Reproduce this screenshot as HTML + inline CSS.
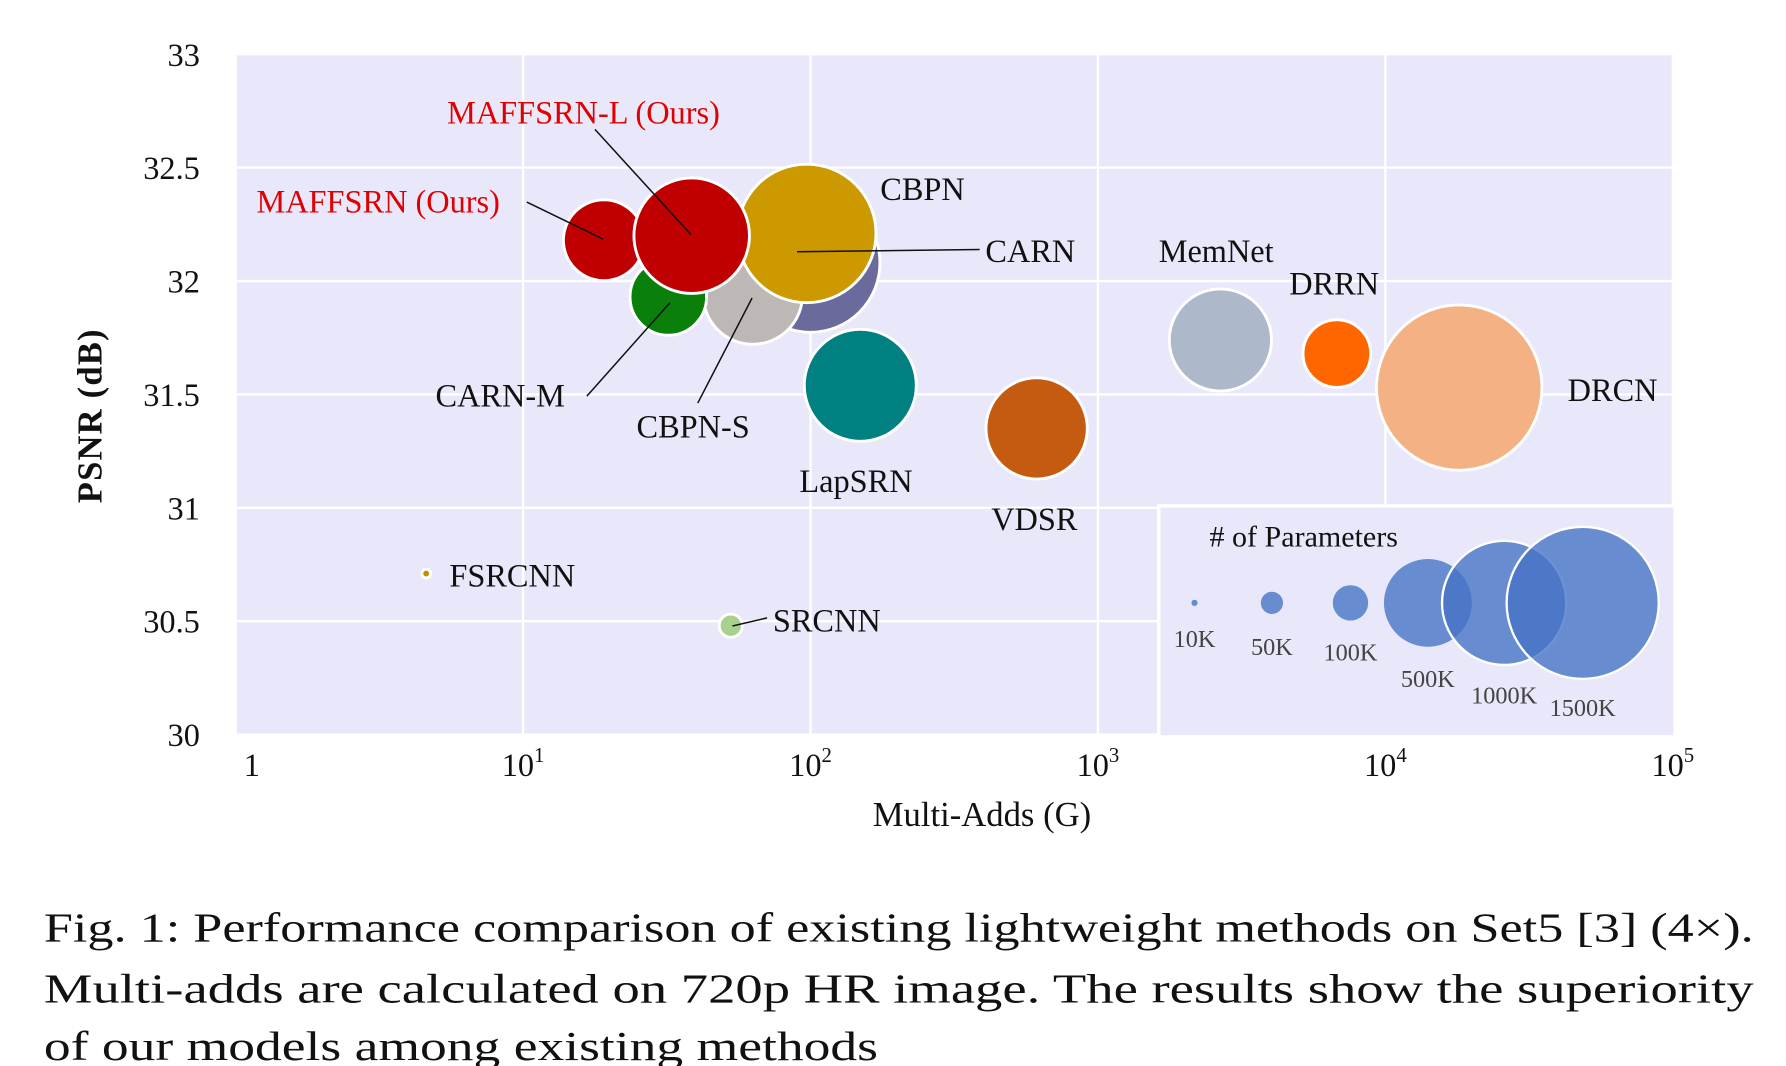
<!DOCTYPE html>
<html><head><meta charset="utf-8"><style>
html,body{margin:0;padding:0;background:#fff;width:1786px;height:1066px;overflow:hidden}
svg{display:block}
text{font-family:"Liberation Serif",serif;fill:#111}
</style></head><body>
<svg id="chart" width="1786" height="1066" viewBox="0 0 1546 923" preserveAspectRatio="none" xmlns="http://www.w3.org/2000/svg">
<rect x="204" y="47" width="1244" height="589" fill="#e8e8fa"/>
<g id="grid"></g>
<g id="bubbles"></g>
<g id="labels"></g>
<g id="legend"></g>
<g id="axes"></g>
<text x="850" y="715" font-size="30" text-anchor="middle">Multi-Adds (G)</text>
<text transform="translate(88,360) rotate(-90)" font-size="30" text-anchor="middle" font-weight="bold" letter-spacing="1">PSNR (dB)</text>
<g font-size="36">
<text x="38" y="815" textLength="1480" lengthAdjust="spacingAndGlyphs">Fig. 1: Performance comparison of existing lightweight methods on Set5 [3] (4×).</text>
<text x="38" y="868" textLength="1480" lengthAdjust="spacingAndGlyphs">Multi-adds are calculated on 720p HR image. The results show the superiority</text>
<text x="38" y="918" textLength="722" lengthAdjust="spacingAndGlyphs">of our models among existing methods</text>
</g>
</svg>
<script>
const methods = ["CARN","CBPN-S","CARN-M","CBPN","LapSRN","VDSR","MemNet","DRRN","DRCN","SRCNN","FSRCNN","MAFFSRN","MAFFSRN-L"];
const multiAdds = [100, 63, 32, 97, 149, 612, 2667, 6780, 18070, 52.8, 4.6, 19.1, 38.6];
const psnr = [32.08, 31.94, 31.93, 32.21, 31.54, 31.35, 31.74, 31.68, 31.53, 30.48, 30.71, 32.18, 32.20];
const paramsK = [1250, 640, 380, 1245, 813, 665, 677, 297, 1774, 35, 5, 424, 865];
const colors = ["#6a6a9c","#bdb8b5","#0a800a","#cc9900","#008080","#c55a11","#adb9ca","#ff6600","#f4b183","#a9d18e","#bf9000","#c00000","#c00000"];
const xTickExp = [0,1,2,3,4,5];
const yTicks = [30,30.5,31,31.5,32,32.5,33];
const legendK = [10,50,100,500,1000,1500];
const legendLabels = ["10K","50K","100K","500K","1000K","1500K"];

const NS="http://www.w3.org/2000/svg";
const X0=204,X1=1448,Y0=636,Y1=47;
function xs(v){return X0+(Math.log10(v)-0)/5*(X1-X0);}
function ys(v){return Y0-(v-30)/3*(Y0-Y1);}
function rs(k){return 1.7*Math.sqrt(k);}
function mk(tag,attrs,parent,txt){const e=document.createElementNS(NS,tag);for(const k in attrs)e.setAttribute(k,attrs[k]);if(txt!==undefined)e.textContent=txt;parent.appendChild(e);return e;}

const grid=document.getElementById('grid'), axes=document.getElementById('axes');
yTicks.forEach(t=>{
  const l=mk('line',{x1:X0,x2:X1,y1:ys(t),y2:ys(t),stroke:'#fff','stroke-width':2},grid);
  
  
  const tx=mk('text',{x:173,y:ys(t)+10,'font-size':28,'text-anchor':'end'},axes,String(t));
  
  
});
xTickExp.forEach(e=>{
  const x=xs(Math.pow(10,e));
  const l=mk('line',{x1:x,x2:x,y1:Y1,y2:Y0,stroke:'#fff','stroke-width':2},grid);
  
  
  const tx=mk('text',{x:e===0?x+14:x,y:672,'font-size':28,'text-anchor':'middle'},axes);
  
  
  if(e===0){tx.textContent='1';}else{tx.textContent='10';mk('tspan',{dy:-12,'font-size':18},tx,String(e));}
});

const bub=document.getElementById('bubbles');
methods.forEach((m,i)=>{
  const c=mk('circle',{cx:xs(multiAdds[i]),cy:ys(psnr[i]),r:rs(paramsK[i]),fill:colors[i],stroke:'#fff','stroke-width':2.5},bub);
  
  
});

const lab=document.getElementById('labels');
const labelDefs=[
 ["MAFFSRN-L (Ours)",387,107,'#e00000'],["MAFFSRN (Ours)",222,184,'#e00000'],["CBPN",762,173,'#111'],["CARN",853,227,'#111'],
 ["MemNet",1003,227,'#111'],["DRRN",1116,255,'#111'],["DRCN",1357,347,'#111'],["CARN-M",377,352,'#111'],["CBPN-S",551,379,'#111'],
 ["LapSRN",692,426,'#111'],["VDSR",858,459,'#111'],["FSRCNN",389,508,'#111'],["SRCNN",669,547,'#111']];
labelDefs.forEach(d=>{
  const t=mk('text',{x:d[1],y:d[2],'font-size':28,fill:d[3]},lab,d[0]);
  t.style.fill=d[3];
  
  
});
[[515,112,598,203],[456,175,522,207],[848,216,690,218],[508,343,580,262],[604,349,651,258],[634,542,664,535]].forEach(p=>{
  const l=mk('line',{x1:p[0],y1:p[1],x2:p[2],y2:p[3],stroke:'#111','stroke-width':1.3},lab);
  
  
});

const lg=document.getElementById('legend');
const box=mk('rect',{x:1003,y:438,width:447,height:200,fill:'#e8e8fa',stroke:'#fff','stroke-width':3},lg);


const lt=mk('text',{x:1047,y:473,'font-size':26},lg,'# of Parameters');


const lx=[1034,1101,1169,1236,1302,1370], ly=[560,567,572,595,609,620], lf=[0.5,0.8,0.9,1,1,1];
legendK.forEach((k,i)=>{
  const c=mk('circle',{cx:lx[i],cy:522,r:rs(k)*lf[i],fill:'rgba(68,114,196,0.78)',stroke:i>3?'#fff':'none','stroke-width':2},lg);
  
  
  const t=mk('text',{x:lx[i],y:ly[i],'font-size':21,'text-anchor':'middle',fill:'#444'},lg,legendLabels[i]);
  t.style.fill='#444';
  
  
});
</script>
</body></html>
